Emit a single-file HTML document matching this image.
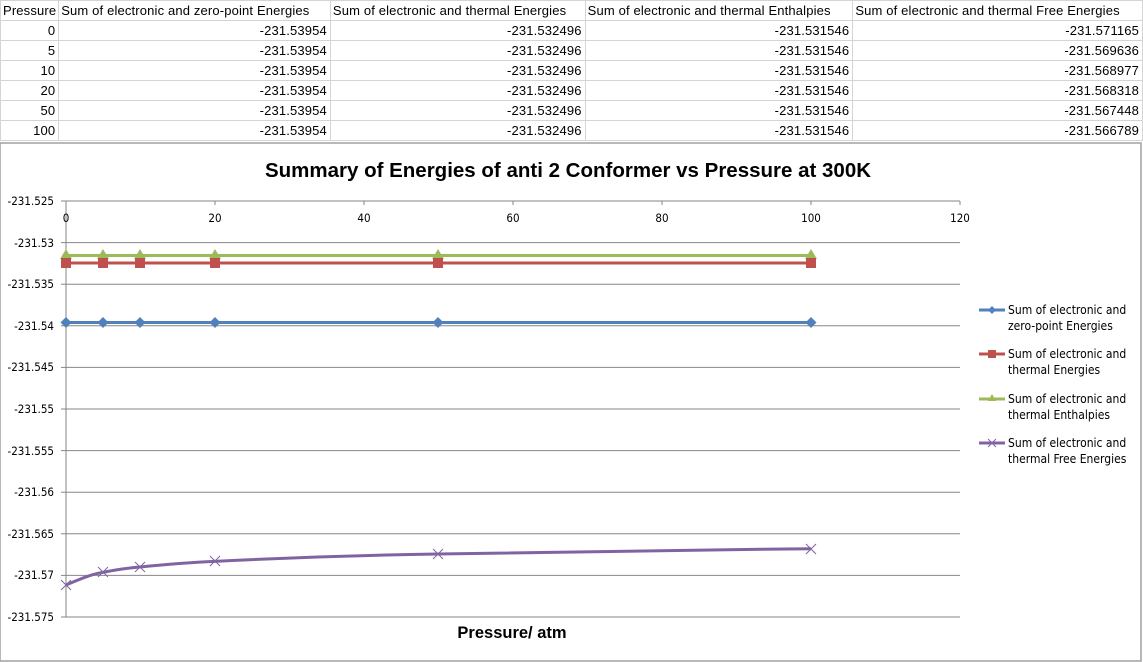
<!DOCTYPE html>
<html><head><style>
body{margin:0;width:1143px;height:662px;overflow:hidden;background:#fff;font-family:"Liberation Sans",sans-serif}
table{border-collapse:collapse;position:absolute;left:0;top:0;font-size:13px;letter-spacing:0.15px;font-family:"Liberation Sans",sans-serif;table-layout:fixed}
td{border:1px solid #d4d4d4;height:19px;padding:0 3px;white-space:nowrap;text-align:right;overflow:hidden}
tr:first-child td{text-align:left;padding:0 2px}
</style></head><body>
<table>
<colgroup><col style="width:58px"><col style="width:272px"><col style="width:255px"><col style="width:268px"><col style="width:290px"></colgroup>
<tr><td>Pressure</td><td>Sum of electronic and zero-point Energies</td><td>Sum of electronic and thermal Energies</td><td>Sum of electronic and thermal Enthalpies</td><td>Sum of electronic and thermal Free Energies</td></tr>
<tr><td>0</td><td>-231.53954</td><td>-231.532496</td><td>-231.531546</td><td>-231.571165</td></tr>
<tr><td>5</td><td>-231.53954</td><td>-231.532496</td><td>-231.531546</td><td>-231.569636</td></tr>
<tr><td>10</td><td>-231.53954</td><td>-231.532496</td><td>-231.531546</td><td>-231.568977</td></tr>
<tr><td>20</td><td>-231.53954</td><td>-231.532496</td><td>-231.531546</td><td>-231.568318</td></tr>
<tr><td>50</td><td>-231.53954</td><td>-231.532496</td><td>-231.531546</td><td>-231.567448</td></tr>
<tr><td>100</td><td>-231.53954</td><td>-231.532496</td><td>-231.531546</td><td>-231.566789</td></tr>
</table>
<svg style="position:absolute;left:0;top:0" width="1143" height="662" font-family="DejaVu Sans Condensed, Liberation Sans, sans-serif">
<rect x="0" y="143" width="1141" height="518" fill="#fff" stroke="#a0a0a0" stroke-width="1.5"/>
<text x="568" y="177" text-anchor="middle" font-size="20.5" font-weight="bold" fill="#000" font-family="Liberation Sans, sans-serif">Summary of Energies of anti 2 Conformer vs Pressure at 300K</text>
<g stroke="#868686" stroke-width="1">
<line x1="66" y1="242.6" x2="960" y2="242.6"/><line x1="66" y1="284.2" x2="960" y2="284.2"/>
<line x1="66" y1="325.8" x2="960" y2="325.8"/><line x1="66" y1="367.4" x2="960" y2="367.4"/>
<line x1="66" y1="409" x2="960" y2="409"/><line x1="66" y1="450.6" x2="960" y2="450.6"/>
<line x1="66" y1="492.2" x2="960" y2="492.2"/><line x1="66" y1="533.8" x2="960" y2="533.8"/>
<line x1="66" y1="575.4" x2="960" y2="575.4"/><line x1="61" y1="617" x2="960" y2="617"/>
<line x1="61" y1="201" x2="960" y2="201"/><line x1="66" y1="201" x2="66" y2="617"/>
<line x1="215" y1="201" x2="215" y2="205"/><line x1="364" y1="201" x2="364" y2="205"/>
<line x1="513" y1="201" x2="513" y2="205"/><line x1="662" y1="201" x2="662" y2="205"/>
<line x1="811" y1="201" x2="811" y2="205"/><line x1="960" y1="201" x2="960" y2="205"/>
<line x1="61" y1="242.6" x2="66" y2="242.6"/><line x1="61" y1="284.2" x2="66" y2="284.2"/><line x1="61" y1="325.8" x2="66" y2="325.8"/><line x1="61" y1="367.4" x2="66" y2="367.4"/><line x1="61" y1="409" x2="66" y2="409"/><line x1="61" y1="450.6" x2="66" y2="450.6"/><line x1="61" y1="492.2" x2="66" y2="492.2"/><line x1="61" y1="533.8" x2="66" y2="533.8"/><line x1="61" y1="575.4" x2="66" y2="575.4"/>
</g>
<g font-size="11.5" fill="#000" text-anchor="end">
<text x="54" y="205">-231.525</text><text x="54" y="247">-231.53</text><text x="54" y="288">-231.535</text><text x="54" y="330">-231.54</text><text x="54" y="371">-231.545</text><text x="54" y="413">-231.55</text><text x="54" y="455">-231.555</text><text x="54" y="496">-231.56</text><text x="54" y="538">-231.565</text><text x="54" y="579">-231.57</text><text x="54" y="621">-231.575</text>
</g>
<g font-size="11.5" fill="#000" text-anchor="middle">
<text x="66" y="222">0</text><text x="215" y="222">20</text><text x="364" y="222">40</text><text x="513" y="222">60</text><text x="662" y="222">80</text><text x="811" y="222">100</text><text x="960" y="222">120</text>
</g>
<text x="512" y="638" text-anchor="middle" font-size="16.5" font-weight="bold" font-family="Liberation Sans, sans-serif">Pressure/ atm</text>
<line x1="66" y1="255.5" x2="811" y2="255.5" stroke="#9bbb59" stroke-width="3"/>
<g fill="#9bbb59"><path d="M66 249l6 10h-12z"/><path d="M103 249l6 10h-12z"/><path d="M140 249l6 10h-12z"/><path d="M215 249l6 10h-12z"/><path d="M438 249l6 10h-12z"/><path d="M811 249l6 10h-12z"/></g>
<line x1="66" y1="263" x2="811" y2="263" stroke="#c0504d" stroke-width="3"/>
<g fill="#c0504d"><rect x="61" y="258" width="10" height="10"/><rect x="98" y="258" width="10" height="10"/><rect x="135" y="258" width="10" height="10"/><rect x="210" y="258" width="10" height="10"/><rect x="433" y="258" width="10" height="10"/><rect x="806" y="258" width="10" height="10"/></g>
<line x1="66" y1="322.5" x2="811" y2="322.5" stroke="#4f81bd" stroke-width="3"/>
<g fill="#4f81bd"><path d="M66 317l5.5 5.5-5.5 5.5-5.5-5.5z"/><path d="M103 317l5.5 5.5-5.5 5.5-5.5-5.5z"/><path d="M140 317l5.5 5.5-5.5 5.5-5.5-5.5z"/><path d="M215 317l5.5 5.5-5.5 5.5-5.5-5.5z"/><path d="M438 317l5.5 5.5-5.5 5.5-5.5-5.5z"/><path d="M811 317l5.5 5.5-5.5 5.5-5.5-5.5z"/></g>
<path d="M66 585 C80 579 92 574 103 572.4 C118 569 128 568 140 567 C170 564 190 562.5 215 561.4 C300 557 370 555 438 554 C600 551 700 550 811 548.7" fill="none" stroke="#8064a2" stroke-width="3"/>
<g stroke="#8064a2" stroke-width="1"><path d="M61 580l10 10M71 580l-10 10"/><path d="M98 567l10 10M108 567l-10 10"/><path d="M135 562l10 10M145 562l-10 10"/><path d="M210 556l10 10M220 556l-10 10"/><path d="M433 549l10 10M443 549l-10 10"/><path d="M806 544l10 10M816 544l-10 10"/></g>
<g font-size="12" fill="#000">
<line x1="979" y1="310" x2="1005" y2="310" stroke="#4f81bd" stroke-width="3"/><path d="M992 306l4 4-4 4-4-4z" fill="#4f81bd"/>
<text x="1008" y="314">Sum of electronic and</text><text x="1008" y="330">zero-point Energies</text>
<line x1="979" y1="354" x2="1005" y2="354" stroke="#c0504d" stroke-width="3"/><rect x="988" y="350" width="8" height="8" fill="#c0504d"/>
<text x="1008" y="358">Sum of electronic and</text><text x="1008" y="374">thermal Energies</text>
<line x1="979" y1="399" x2="1005" y2="399" stroke="#9bbb59" stroke-width="3"/><path d="M992 394l4 7h-8z" fill="#9bbb59"/>
<text x="1008" y="403">Sum of electronic and</text><text x="1008" y="419">thermal Enthalpies</text>
<line x1="979" y1="443" x2="1005" y2="443" stroke="#8064a2" stroke-width="3"/><path d="M988 439l8 8M996 439l-8 8" stroke="#8064a2"/>
<text x="1008" y="447">Sum of electronic and</text><text x="1008" y="463">thermal Free Energies</text>
</g>
</svg>
</body></html>
